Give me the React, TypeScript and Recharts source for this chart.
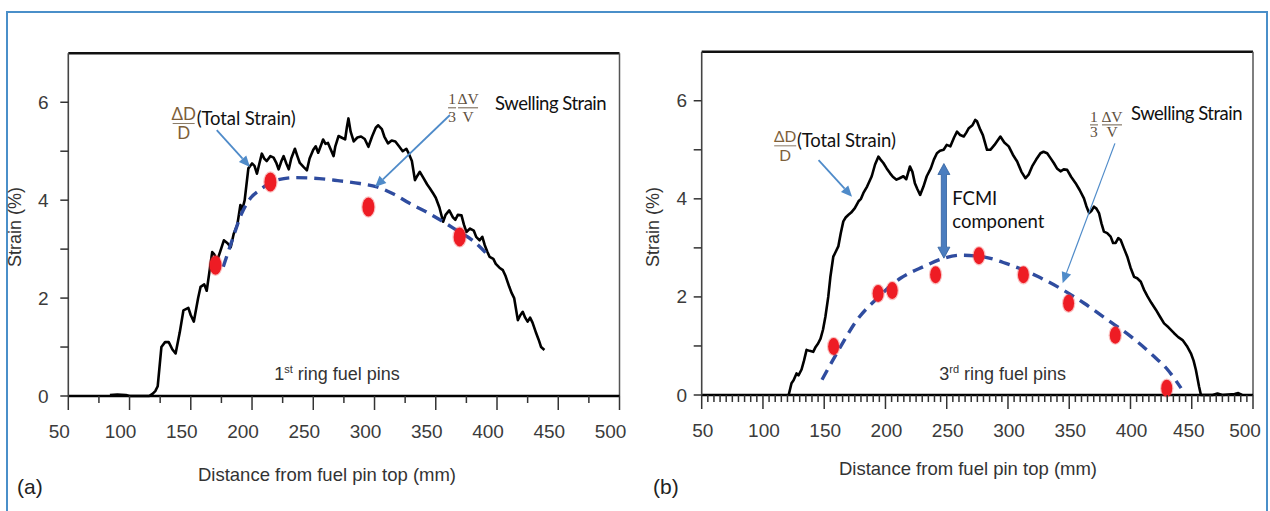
import React from 'react';
import {
  ComposedChart,
  Line,
  Scatter,
  XAxis,
  YAxis,
  ReferenceLine,
  ReferenceDot,
} from 'recharts';

type Pair = [number, number];

// (a) 1st ring fuel pins: [distance mm, strain %]
const ringATotal: Pair[] = [
  [84, 0.02], [90, 0.03], [97, 0.02], [100, 0], [116, 0], [119, 0.05], [121, 0.1], [123, 0.2],
  [124.5, 0.6], [126, 1.0], [129, 1.1], [132, 1.1], [135, 0.95], [137.6, 0.87], [141, 1.3],
  [144, 1.75], [148, 1.8], [150, 1.65], [152.5, 1.52], [156, 2.0], [158, 2.23], [161, 2.28],
  [163, 2.15], [165, 2.5], [167.5, 2.94], [169, 2.9], [171.6, 2.77], [174, 2.95], [177, 3.18],
  [180, 3.12], [182.6, 3.04], [185, 3.31], [188, 3.5], [190.5, 3.9], [192, 3.8], [194, 4.0],
  [197, 4.65], [200, 4.75], [202, 4.7], [204, 4.54], [206, 4.75], [208, 4.95], [210, 4.85],
  [212, 4.8], [215, 4.9], [217.6, 4.87], [220, 4.75], [221.7, 4.63], [224, 4.8], [225.8, 4.9],
  [228, 4.75], [230, 4.63], [232, 4.85], [235, 5.05], [237, 4.9], [239, 4.76], [242, 4.68],
  [244.8, 4.61], [247, 4.85], [250, 5.03], [252, 5.1], [254, 4.97], [256, 5.1], [258, 5.24],
  [260, 5.15], [262, 5.17], [264, 5.05], [266.6, 4.9], [268, 5.1], [270.6, 5.31], [273, 5.28],
  [276, 5.24], [277.5, 5.5], [278.7, 5.67], [280.5, 5.4], [283, 5.2], [286, 5.28], [289, 5.3],
  [292, 5.25], [295, 5.09], [298, 5.3], [301, 5.48], [303, 5.53], [306, 5.45], [308, 5.3],
  [311, 5.16], [314, 5.22], [317, 5.2], [320, 5.1], [323, 5.0], [326, 5.05], [328, 4.95],
  [330.5, 4.8], [333, 4.41], [335, 4.5], [337, 4.58], [340, 4.45], [343, 4.32], [345, 4.25],
  [347.8, 4.14], [350, 4.05], [353, 3.85], [356, 3.56], [358, 3.7], [361, 3.79], [364, 3.65],
  [366, 3.6], [368, 3.7], [371, 3.69], [373, 3.5], [375, 3.35], [378, 3.42], [381, 3.38],
  [383, 3.25], [385.8, 3.18], [388, 3.25], [390, 3.08], [392, 2.95], [394, 2.84], [397, 2.8],
  [399, 2.7], [402, 2.62], [404.8, 2.57], [407, 2.45], [410, 2.23], [412, 2.1], [414, 2.0],
  [417, 1.55], [419, 1.65], [421, 1.72], [423, 1.6], [425, 1.52], [427, 1.6], [429, 1.5],
  [432, 1.28], [434, 1.15], [436, 1.0], [438.7, 0.94],
];
const ringASwelling: Pair[] = [
  [176.5, 2.64], [184, 3.2], [191.6, 3.73], [199, 4.05], [206.5, 4.21], [213, 4.33], [220, 4.41],
  [235, 4.46], [250, 4.45], [270, 4.4], [288, 4.34], [302, 4.27], [316, 4.12], [329, 3.93],
  [343, 3.75], [356, 3.56], [368, 3.37], [380, 3.18], [394, 2.84],
];
const ringAMeasured: Pair[] = [[170.2, 2.67], [215, 4.37], [295, 3.86], [369.5, 3.25]];

// (b) 3rd ring fuel pins
const ringBTotal: Pair[] = [
  [121, 0], [123.3, 0.24], [125, 0.3], [127.4, 0.44], [129, 0.4], [131.5, 0.52], [133.5, 0.7],
  [135.6, 0.92], [138, 0.9], [141, 0.88], [143, 0.98], [145, 1.05], [147, 1.15], [149, 1.33],
  [151, 1.6], [153.3, 2.0], [155, 2.4], [157.4, 2.82], [159, 2.9], [161.5, 3.03], [163.5, 3.3],
  [165.6, 3.54], [167.5, 3.62], [169.6, 3.67], [172, 3.72], [175, 3.81], [178, 3.95], [180, 4.0],
  [182, 4.12], [185, 4.25], [188.8, 4.46], [191.5, 4.7], [194.2, 4.86], [196, 4.8], [198.3, 4.73],
  [201, 4.62], [203.8, 4.52], [206, 4.45], [209, 4.39], [211.5, 4.42], [214.6, 4.46], [217, 4.4],
  [220, 4.66], [222, 4.55], [224, 4.32], [226, 4.2], [228.3, 4.08], [231, 4.25], [233.7, 4.46],
  [237, 4.62], [239.5, 4.8], [242, 4.93], [244.5, 4.98], [247.5, 5.0], [250, 5.1], [253, 5.07],
  [256, 5.25], [258.4, 5.37], [261, 5.3], [263.9, 5.27], [266, 5.35], [268, 5.44], [271, 5.5],
  [273.3, 5.61], [274.7, 5.58], [277.4, 5.41], [279.5, 5.3], [282.9, 5.0], [285.6, 5.0], [289, 5.1],
  [293.8, 5.27], [297, 5.15], [300.6, 5.07], [304, 4.9], [307.5, 4.76], [311, 4.55], [314.3, 4.42],
  [317, 4.5], [319.7, 4.66], [323, 4.8], [326.5, 4.93], [329, 4.96], [332, 4.93], [335, 4.82],
  [337.4, 4.73], [340, 4.62], [342.9, 4.56], [345.5, 4.6], [348.3, 4.59], [351.5, 4.45],
  [355.2, 4.32], [358.5, 4.18], [362, 4.01], [364, 3.85], [366.2, 3.71], [368, 3.75], [370.2, 3.84],
  [372.2, 3.8], [374.3, 3.71], [376.3, 3.5], [378.3, 3.33], [381, 3.3], [383.8, 3.23], [385.8, 3.1],
  [387.9, 3.1], [390, 3.2], [392, 3.16], [394.5, 3.0], [397.4, 2.82], [400, 2.6], [402.9, 2.41],
  [405.5, 2.38], [408.4, 2.31], [411, 2.15], [413.9, 2.01], [417, 1.88], [420.7, 1.74], [424, 1.6],
  [427.4, 1.46], [431, 1.38], [435.6, 1.26], [439, 1.18], [442.5, 1.12], [446, 1.0], [449.3, 0.85],
  [451.5, 0.7], [453.4, 0.51], [455, 0.3], [456, 0.17], [457.5, 0], [467, 0], [471, 0.03], [475, 0],
  [485, 0.02], [488, 0.04], [491, 0],
];
const ringBSwelling: Pair[] = [
  [148.2, 0.31], [161.8, 0.92], [176.8, 1.53], [193.2, 1.97], [212.2, 2.38], [231.3, 2.62],
  [247.7, 2.79], [261.3, 2.85], [276.3, 2.83], [302.2, 2.65], [324, 2.42], [343, 2.17],
  [362.2, 1.87], [381.4, 1.53], [400.4, 1.19], [419.5, 0.78], [430.5, 0.51], [441.3, 0.14],
];
const ringBMeasured: Pair[] = [
  [157.7, 0.99], [194, 2.07], [205.5, 2.13], [240.9, 2.45], [276.3, 2.84], [312.6, 2.45],
  [349.5, 1.87], [387.6, 1.22], [429.6, 0.14],
];

const xTicksA = [50, 75, 100, 125, 150, 175, 200, 225, 250, 275, 300, 325, 350, 375, 400, 425, 450, 475, 500];
const xTicksB = Array.from({ length: 91 }, (_, i) => 50 + 5 * i); // minor every 5 mm
const yTicks = [0, 1, 2, 3, 4, 5, 6];

// annotation anchors, in data units
const ringAArrows: [Pair, Pair][] = [[[171.2, 5.43], [198.3, 4.68]], [[361.6, 5.74], [300.4, 4.27]]];
const ringBArrows: [Pair, Pair][] = [[[145.4, 4.79], [172.7, 4.04]], [[387.3, 5.13], [344.6, 2.28]]];
const fcmiArrow: [Pair, Pair] = [[247.7, 4.72], [247.7, 2.79]];

const AXIS_FONT = "'Liberation Sans', Arial, sans-serif";
const NOTE_FONT = "Lato, 'Open Sans', sans-serif";
const MATH_FONT = "'Liberation Serif', 'DejaVu Serif', serif";

const toPts = (pairs: Pair[]) => pairs.map(([x, y]) => ({ x, y }));

const xTick = (labelDx: (v: number) => number) => (props: any) => {
  const { x, y, payload } = props;
  const v = payload.value as number;
  const major = v % 50 === 0;
  return (
    <g>
      <line x1={x} x2={x} y1={y} y2={y + (major ? 14 : 7)} stroke="#333" strokeWidth={1.5} />
      {major && (
        <text x={x + labelDx(v)} y={y + 42} textAnchor="middle" fontSize={19} fontFamily={AXIS_FONT} fill="#3b3b3b">
          {v}
        </text>
      )}
    </g>
  );
};

const yTick = (labelDx: number) => (props: any) => {
  const { x, y, payload } = props;
  const v = payload.value as number;
  return (
    <g>
      <line x1={x - 8} x2={x} y1={y} y2={y} stroke="#333" strokeWidth={1.5} />
      {v % 2 === 0 && (
        <text x={x + labelDx} y={y} textAnchor="middle" dominantBaseline="central" fontSize={19} fontFamily={AXIS_FONT} fill="#3b3b3b">
          {v}
        </text>
      )}
    </g>
  );
};

const dotShape = (rx: number, ry: number) => (props: any) => (
  <g>
    <ellipse cx={props.cx} cy={props.cy} rx={rx + 1.2} ry={ry + 1.2} fill="#f04a4a" opacity={0.35} />
    <ellipse cx={props.cx} cy={props.cy} rx={rx} ry={ry} fill="#ee1c24" />
  </g>
);

const arrowShape = (color: string, width: number, head: number) => (props: any) => {
  const { x1, y1, x2, y2 } = props;
  const a = Math.atan2(y2 - y1, x2 - x1);
  const c = Math.cos(a);
  const s = Math.sin(a);
  const bx = x2 - head * c;
  const by = y2 - head * s;
  const hw = head * 0.45;
  return (
    <g>
      <line x1={x1} y1={y1} x2={bx} y2={by} stroke={color} strokeWidth={width} />
      <polygon points={`${x2},${y2} ${bx + hw * s},${by - hw * c} ${bx - hw * s},${by + hw * c}`} fill={color} />
    </g>
  );
};

const doubleArrow = (props: any) => {
  const { x1, y1, y2 } = props;
  const top = Math.min(y1, y2);
  const bot = Math.max(y1, y2);
  const head = 11;
  const hw = 6;
  const sw = 2.6;
  const pts = [
    [x1, top], [x1 + hw, top + head], [x1 + sw, top + head], [x1 + sw, bot - head], [x1 + hw, bot - head],
    [x1, bot], [x1 - hw, bot - head], [x1 - sw, bot - head], [x1 - sw, top + head], [x1 - hw, top + head],
  ];
  return <polygon points={pts.map((p) => p.join(',')).join(' ')} fill="#4a7dbf" stroke="#30609e" strokeWidth={0.8} />;
};

interface TotalLabelStyle { size: number; dx: number; numDy: number; barDy: number; denDy: number }
const totalLabel = (st: TotalLabelStyle) => (props: any) => {
  const { cx, cy } = props;
  return (
    <g fontFamily={NOTE_FONT}>
      <text x={cx + st.dx} y={cy + st.numDy} textAnchor="middle" fontSize={st.size} fill="#7d6039">ΔD</text>
      <line x1={cx + st.dx - 11} x2={cx + st.dx + 11} y1={cy + st.barDy} y2={cy + st.barDy} stroke="#8a7a66" strokeWidth={1} />
      <text x={cx + st.dx} y={cy + st.denDy} textAnchor="middle" fontSize={st.size} fill="#7d6039">D</text>
      <text x={cx} y={cy} fontSize={18.5} fill="#111" letterSpacing={-0.1}>(Total Strain)</text>
    </g>
  );
};

interface SwellLabelStyle { oneDx: number; dvDx: number; topDy: number; barDy: number; botDy: number }
const swellLabel = (st: SwellLabelStyle) => (props: any) => {
  const { cx, cy } = props;
  const f = { fontFamily: MATH_FONT, fontSize: 15.5, fill: '#5e5040', textAnchor: 'middle' as const };
  return (
    <g>
      <text x={cx + st.oneDx} y={cy + st.topDy} {...f}>1</text>
      <text x={cx + st.dvDx} y={cy + st.topDy} {...f}>ΔV</text>
      <line x1={cx + st.oneDx - 4} x2={cx + st.oneDx + 4} y1={cy + st.barDy} y2={cy + st.barDy} stroke="#7a6c5a" strokeWidth={1.1} />
      <line x1={cx + st.dvDx - 10} x2={cx + st.dvDx + 10} y1={cy + st.barDy} y2={cy + st.barDy} stroke="#7a6c5a" strokeWidth={1.1} />
      <text x={cx + st.oneDx} y={cy + st.botDy} {...f}>3</text>
      <text x={cx + st.dvDx} y={cy + st.botDy} {...f}>V</text>
      <text x={cx} y={cy} fontFamily={NOTE_FONT} fontSize={18.5} fill="#111" letterSpacing={-0.5}>Swelling Strain</text>
    </g>
  );
};

const ringLabel = (ord: string, sup: string) => (props: any) => (
  <text x={props.cx} y={props.cy} textAnchor="middle" fontSize={18} fontFamily={AXIS_FONT} fill="#333">
    {ord}
    <tspan dy={-7} fontSize={11}>{sup}</tspan>
    <tspan dy={7}> ring fuel pins</tspan>
  </text>
);

const fcmiLabel = (props: any) => (
  <g fontFamily={NOTE_FONT} fontSize={18.5} fill="#111">
    <text x={props.cx} y={props.cy}>FCMI</text>
    <text x={props.cx} y={props.cy + 23}>component</text>
  </g>
);

interface PanelCfg {
  left: number;
  width: number;
  margin: { top: number; right: number; bottom: number; left: number };
  yWidth: number;
  xTicks: number[];
  xLabelDx: (v: number) => number;
  yLabelDx: number;
  xTitle: { x: number; y: number };
  yTitle: { x: number; y: number };
  dot: [number, number];
}

function StrainPanel({ cfg, total, swell, measured, children }: {
  cfg: PanelCfg; total: Pair[]; swell: Pair[]; measured: Pair[]; children?: React.ReactNode;
}) {
  return (
    <div style={{ position: 'absolute', left: cfg.left, top: 0 }}>
      <ComposedChart width={cfg.width} height={511} margin={cfg.margin}>
        <XAxis
          type="number"
          dataKey="x"
          domain={[50, 500]}
          ticks={cfg.xTicks}
          interval={0}
          tickSize={0}
          tickMargin={0}
          tickLine={false}
          tick={xTick(cfg.xLabelDx)}
          axisLine={{ stroke: '#000', strokeWidth: 2.4 }}
          height={40}
          label={() => (
            <text x={cfg.xTitle.x} y={cfg.xTitle.y} textAnchor="middle" fontSize={18.5} fontFamily={AXIS_FONT} fill="#333">
              Distance from fuel pin top (mm)
            </text>
          )}
        />
        <YAxis
          type="number"
          dataKey="y"
          domain={[0, 7]}
          ticks={yTicks}
          interval={0}
          tickSize={0}
          tickMargin={0}
          tickLine={false}
          tick={yTick(cfg.yLabelDx)}
          axisLine={{ stroke: '#444', strokeWidth: 1.6 }}
          width={cfg.yWidth}
          label={() => (
            <text
              x={cfg.yTitle.x}
              y={cfg.yTitle.y}
              transform={`rotate(-90 ${cfg.yTitle.x} ${cfg.yTitle.y})`}
              textAnchor="middle"
              dominantBaseline="central"
              fontSize={18}
              fontFamily={AXIS_FONT}
              fill="#333"
            >
              Strain (%)
            </text>
          )}
        />
        <ReferenceLine y={7} stroke="#111" strokeWidth={2.4} />
        <ReferenceLine x={500} stroke="#555" strokeWidth={1.5} />
        <Line data={toPts(total)} dataKey="y" type="linear" stroke="#000" strokeWidth={2.6} strokeLinejoin="round" dot={false} isAnimationActive={false} />
        <Line data={toPts(swell)} dataKey="y" type="monotone" stroke="#2f4c9f" strokeWidth={3.4} strokeDasharray="11 7" dot={false} isAnimationActive={false} />
        <Scatter data={toPts(measured)} shape={dotShape(cfg.dot[0], cfg.dot[1])} isAnimationActive={false} />
        {children}
      </ComposedChart>
    </div>
  );
}

const cfgA: PanelCfg = {
  left: 0,
  width: 640,
  margin: { top: 53.3, right: 20.5, bottom: 75, left: 8 },
  yWidth: 60.3,
  xTicks: xTicksA,
  xLabelDx: () => -9,
  yLabelDx: -25,
  xTitle: { x: 327, y: 481 },
  yTitle: { x: 15, y: 227 },
  dot: [6, 9.5],
};

const cfgB: PanelCfg = {
  left: 640,
  width: 630,
  margin: { top: 51.7, right: 17, bottom: 76, left: 8 },
  yWidth: 53.7,
  xTicks: xTicksB,
  xLabelDx: (v) => (v === 500 ? -8 : v === 450 ? -3 : 1),
  yLabelDx: -20,
  xTitle: { x: 328, y: 475 },
  yTitle: { x: 13.3, y: 227 },
  dot: [5.5, 8.5],
};

export default function App() {
  return (
    <div style={{ position: 'absolute', left: 0, top: 0, width: 1270, height: 511, overflow: 'hidden', background: '#fff' }}>
      <div
        style={{
          position: 'absolute', left: 6, top: 11, width: 1262, height: 520,
          border: '2px solid #4a8fc9', boxSizing: 'border-box',
        }}
      />
      <StrainPanel cfg={cfgA} total={ringATotal} swell={ringASwelling} measured={ringAMeasured}>
        {ringAArrows.map(([a, b], i) => (
          <ReferenceLine key={`aa${i}`} segment={[{ x: a[0], y: a[1] }, { x: b[0], y: b[1] }]} shape={arrowShape('#4f8bc9', 1.8, 11)} />
        ))}
        <ReferenceDot x={154.8} y={5.535} r={0} shape={totalLabel({ size: 17, dx: -13, numDy: -5, barDy: -1.5, denDy: 14 })} />
        <ReferenceDot x={398.4} y={5.84} r={0} shape={swellLabel({ oneDx: -43, dvDx: -27, topDy: -6, barDy: -2.3, botDy: 12 })} />
        <ReferenceDot x={269.4} y={0.327} r={0} shape={ringLabel('1', 'st')} />
      </StrainPanel>
      <StrainPanel cfg={cfgB} total={ringBTotal} swell={ringBSwelling} measured={ringBMeasured}>
        {ringBArrows.map(([a, b], i) => (
          <ReferenceLine key={`ba${i}`} segment={[{ x: a[0], y: a[1] }, { x: b[0], y: b[1] }]} shape={arrowShape('#4f8bc9', i === 0 ? 1.8 : 1.2, 11)} />
        ))}
        <ReferenceLine segment={[{ x: fcmiArrow[0][0], y: fcmiArrow[0][1] }, { x: fcmiArrow[1][0], y: fcmiArrow[1][1] }]} shape={doubleArrow} />
        <ReferenceDot x={127.7} y={5.06} r={0} shape={totalLabel({ size: 15.5, dx: -11.7, numDy: -4.5, barDy: -1, denDy: 14.5 })} />
        <ReferenceDot x={400.4} y={5.61} r={0} shape={swellLabel({ oneDx: -37, dvDx: -19, topDy: 1.7, barDy: 5, botDy: 17 })} />
        <ReferenceDot x={254.5} y={3.87} r={0} shape={fcmiLabel} />
        <ReferenceDot x={295.7} y={0.306} r={0} shape={ringLabel('3', 'rd')} />
      </StrainPanel>
      <div style={{ position: 'absolute', left: 17, top: 476, fontFamily: AXIS_FONT, fontSize: 21, lineHeight: '21px', color: '#222' }}>(a)</div>
      <div style={{ position: 'absolute', left: 653, top: 476, fontFamily: AXIS_FONT, fontSize: 21, lineHeight: '21px', color: '#222' }}>(b)</div>
    </div>
  );
}
